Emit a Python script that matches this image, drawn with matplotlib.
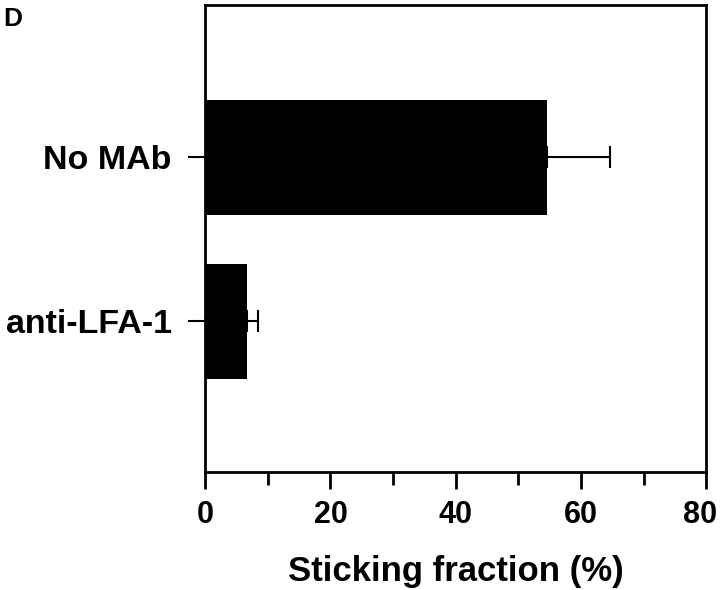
import numpy as np
import matplotlib
matplotlib.use("Agg")
import matplotlib.pyplot as plt
from matplotlib.transforms import ScaledTranslation

plt.rcParams['font.family'] = ['Liberation Sans', 'DejaVu Sans']
plt.rcParams['font.weight'] = 'bold'

# data
conditions = ['anti-LFA-1', 'No MAb']
sticking = [6.7, 54.5]
sticking_err = [1.8, 10.2]

fig = plt.figure(figsize=(7.2, 5.9), dpi=100)
ax = fig.add_axes([0.285, 0.2, 0.696, 0.7915])

ypos = np.arange(len(conditions))
ax.barh(ypos, sticking, height=0.70, color='black',
        xerr=[np.zeros(len(sticking)), sticking_err],
        error_kw=dict(ecolor='black', elinewidth=1.5, capsize=8, capthick=1.5))

ax.set_xlim(0, 80)
ax.set_ylim(-0.92, 1.93)
ax.set_xticks([0, 20, 40, 60, 80])
ax.set_xticks([10, 30, 50, 70], minor=True)
ax.set_yticks(ypos)
ax.set_yticklabels(conditions)

for s in ax.spines.values():
    s.set_linewidth(2)
ax.tick_params(axis='x', which='major', length=12, width=2, labelsize=22, pad=8)
ax.tick_params(axis='x', which='minor', length=9, width=2)
ax.tick_params(axis='y', which='major', length=12, width=1.5, labelsize=24.5, pad=12)

# the last tick label sits a little left so it stays inside the figure
last = ax.get_xticklabels()[-1]
last.set_transform(last.get_transform() + ScaledTranslation(-0.06, 0, fig.dpi_scale_trans))

ax.set_xlabel('Sticking fraction (%)', fontsize=25, fontweight='bold', labelpad=18)

fig.text(0.004, 0.988, 'D', fontsize=19, fontweight='bold', va='top', ha='left')

fig.savefig('out.png', dpi=100)
